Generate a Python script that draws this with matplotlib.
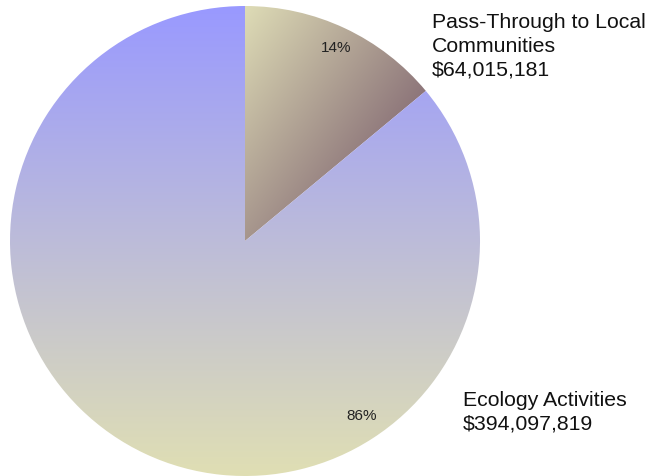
import numpy as np
import matplotlib.pyplot as plt
from matplotlib.colors import to_rgb

plt.rcParams['font.family'] = ['Liberation Sans', 'DejaVu Sans']

# slices in drawing order, clockwise from 12 o'clock
names = ["Pass-Through to Local\nCommunities", "Ecology Activities"]
amounts = [64015181, 394097819]

W, H = 649, 477
cx, cy, r = 245, 242, 235

fig = plt.figure(figsize=(W / 100, H / 100), dpi=100)
ax = fig.add_axes([0, 0, 1, 1])

# y axis runs downward, so counterclock=True turns clockwise on screen
wedges, _, pct_texts = ax.pie(
    amounts, center=(cx, cy), radius=r, startangle=-90, counterclock=True,
    autopct=lambda p: f"{p:.0f}%", pctdistance=0.91,
    textprops=dict(fontsize=11, color="#222222"),
    wedgeprops=dict(linewidth=0),
)
pct_texts[1].set_position((362, 416))


def lerp(c0, c1, t):
    c0, c1 = np.array(to_rgb(c0)), np.array(to_rgb(c1))
    return c0 + (c1 - c0) * t[..., None]


yy, xx = np.mgrid[0:H, 0:W] + 0.5

# small slice: diagonal beige -> mauve-brown
t_small = np.clip(0.0041 * (xx - cx) + 0.0029 * (yy - 8), 0, 1)
img_small = lerp("#dedcb6", "#8c7479", t_small)
# big slice: vertical periwinkle -> khaki
t_big = np.clip((yy - 8) / 470, 0, 1)
img_big = lerp("#9999ff", "#e0dfb3", t_big)

for wedge, img in zip(wedges, [img_small, img_big]):
    wedge.set_facecolor("none")
    im = ax.imshow(img, extent=(0, W, H, 0), origin="upper",
                   interpolation="bilinear", zorder=0)
    im.set_clip_path(wedge)

label_pos = [(432, 13), (463, 391)]
for name, amt, (x, y) in zip(names, amounts, label_pos):
    ax.text(x, y, f"{name}\n${amt:,}", fontsize=15.3, color="#111111",
            ha="left", va="top", linespacing=1.3)

ax.set_xlim(0, W)
ax.set_ylim(H, 0)
ax.set_aspect("equal")
ax.axis("off")

fig.savefig("out.png", dpi=100, facecolor="white")
